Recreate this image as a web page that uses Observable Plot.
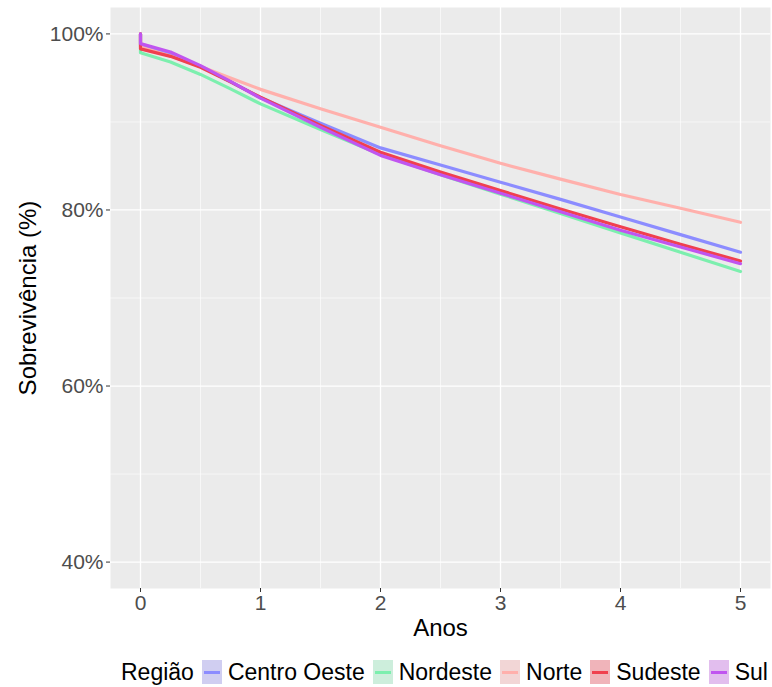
<!DOCTYPE html>
<html>
<head>
<meta charset="utf-8">
<script src="https://cdn.jsdelivr.net/npm/d3@7"></script>
<script src="https://cdn.jsdelivr.net/npm/@observablehq/plot@0.6"></script>
<style>
  html, body { margin: 0; padding: 0; background: #fff; }
  #wrap { position: relative; width: 772px; height: 687px; font-family: "Liberation Sans", Arial, sans-serif; }
  #legend { position: absolute; left: 0; top: 654px; width: 772px; height: 36px; display: flex; align-items: center; justify-content: flex-start; font-size: 23px; color: #000; padding-left: 121px; box-sizing: border-box; white-space: nowrap; }
  .key { display: inline-block; width: 20px; height: 24px; position: relative; margin: 0 6px 0 8px; flex: none; }
  .key span { position: absolute; left: 2px; right: 2px; top: 10.5px; height: 3px; }
</style>
</head>
<body>
<div id="wrap">
  <div id="chart"></div>
  <div id="legend"></div>
</div>
<script>
// Time points (years)
const anos = [0, 0, 0.25, 0.5, 0.75, 1, 1.5, 2, 2.5, 3, 3.5, 4, 4.5, 5];
// Survival (%) per region
const regioes = ["Centro Oeste", "Nordeste", "Norte", "Sudeste", "Sul"];
const centroOeste = [100, 98.75, 97.8, 96.3, 94.55, 92.75, 89.85, 87.05, 85.1, 83.15, 81.2, 79.2, 77.2, 75.2];
const nordeste    = [100, 97.85, 96.8, 95.4, 93.75, 92.05, 89.15, 86.3, 84.0, 81.8, 79.6, 77.4, 75.2, 73.0];
const norte       = [100, 98.5, 97.5, 96.3, 95.0, 93.7, 91.5, 89.4, 87.3, 85.3, 83.5, 81.75, 80.2, 78.6];
const sudeste     = [100, 98.3, 97.45, 96.2, 94.55, 92.8, 89.6, 86.55, 84.3, 82.2, 80.1, 78.1, 76.1, 74.2];
const sul         = [100, 98.9, 97.95, 96.4, 94.6, 92.7, 89.4, 86.2, 84.0, 81.9, 79.8, 77.7, 75.8, 73.9];
const series = [centroOeste, nordeste, norte, sudeste, sul];
const lineColors = ["#8C8CFF", "#7CEFAE", "#FFB0AC", "#F0404F", "#C055F0"];
const keyFills   = ["#D0CEF1", "#CDEEDC", "#F2D6D6", "#F0B4BA", "#E2BEEE"];

const xTicks = [0, 1, 2, 3, 4, 5];
const xMinor = [0.5, 1.5, 2.5, 3.5, 4.5];
const yTicks = [40, 60, 80, 100];
const yMinor = [50, 70, 90];

const data = [];
regioes.forEach((r, i) => series[i].forEach((v, j) => data.push({regiao: r, t: anos[j], s: v})));

const chart = Plot.plot({
  width: 772,
  height: 654,
  marginTop: 7,
  marginBottom: 66,
  marginLeft: 110,
  marginRight: 2,
  style: {fontFamily: "Liberation Sans, Arial, sans-serif", background: "#fff"},
  x: {domain: [-0.25, 5.25]},
  y: {domain: [37, 103]},
  color: {domain: regioes, range: lineColors},
  marks: [
    Plot.frame({fill: "#EBEBEB", stroke: null}),
    Plot.ruleX(xMinor, {stroke: "#fff", strokeWidth: 0.6}),
    Plot.ruleY(yMinor, {stroke: "#fff", strokeWidth: 0.6}),
    Plot.ruleX(xTicks, {stroke: "#fff", strokeWidth: 1.3}),
    Plot.ruleY(yTicks, {stroke: "#fff", strokeWidth: 1.3}),
    Plot.axisX(xTicks, {tickSize: 4, tickPadding: 3, fontSize: 21, color: "#4D4D4D", stroke: "#333", label: null, tickFormat: d3.format("d")}),
    Plot.axisY(yTicks, {tickSize: 4, tickPadding: 3, fontSize: 21, color: "#4D4D4D", stroke: "#333", label: null, tickFormat: d => d + "%"}),
    Plot.text(["Anos"], {frameAnchor: "bottom", dy: 40, text: d => d, fontSize: 24, fill: "#000", lineAnchor: "middle", textAnchor: "middle"}),
    Plot.text(["Sobrevivência (%)"], {frameAnchor: "left", dx: -82, rotate: -90, text: d => d, fontSize: 24, fill: "#000", lineAnchor: "middle", textAnchor: "middle"}),
    Plot.line(data, {x: "t", y: "s", z: "regiao", stroke: "regiao", strokeWidth: 3.2, curve: "linear", strokeLinejoin: "round"})
  ]
});
document.getElementById("chart").appendChild(chart);

const leg = document.getElementById("legend");
const title = document.createElement("span");
title.textContent = "Região";
leg.appendChild(title);
regioes.forEach((r, i) => {
  const k = document.createElement("span");
  k.className = "key";
  k.style.background = keyFills[i];
  const ln = document.createElement("span");
  ln.style.background = lineColors[i];
  k.appendChild(ln);
  leg.appendChild(k);
  const t = document.createElement("span");
  t.textContent = r;
  leg.appendChild(t);
});
</script>
</body>
</html>
